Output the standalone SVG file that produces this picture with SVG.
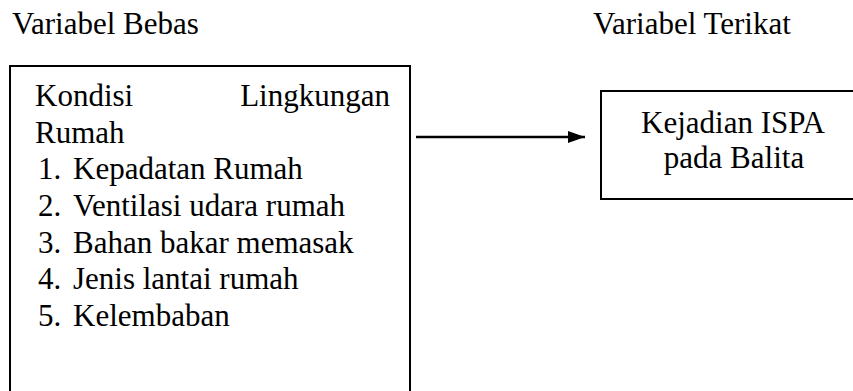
<svg xmlns="http://www.w3.org/2000/svg" width="853" height="391" viewBox="0 0 853 391">
<style>
text{font-family:'Liberation Serif';font-size:31px;fill:#000}
.box{fill:#fff;stroke:#000;stroke-width:2}
.conn{stroke:#000;stroke-width:2.5;fill:none}
</style>
<defs>
<marker id="ah" markerWidth="17" markerHeight="12" refX="17" refY="6" orient="auto" markerUnits="userSpaceOnUse">
<path d="M0,0 L17,6 L0,12 Z" fill="#000"/>
</marker>
</defs>
<rect width="853" height="391" fill="#fff"/>
<text x="12" y="34" font-family="Liberation Serif">Variabel Bebas</text>
<text x="593" y="34" font-family="Liberation Serif">Variabel Terikat</text>
<g id="bebas">
<rect class="box" x="10" y="66" width="400" height="340"/>
<text x="35" y="106" font-family="Liberation Serif">Kondisi</text>
<text x="390" y="106" text-anchor="end" font-family="Liberation Serif">Lingkungan</text>
<text x="35" y="142.7" font-family="Liberation Serif">Rumah</text>
<text x="38" y="179.4" font-family="Liberation Serif">1.</text>
<text x="73" y="179.4" font-family="Liberation Serif">Kepadatan Rumah</text>
<text x="38" y="216" font-family="Liberation Serif">2.</text>
<text x="73" y="216" font-family="Liberation Serif">Ventilasi udara rumah</text>
<text x="38" y="252.7" font-family="Liberation Serif">3.</text>
<text x="73" y="252.7" font-family="Liberation Serif">Bahan bakar memasak</text>
<text x="38" y="289.4" font-family="Liberation Serif">4.</text>
<text x="73" y="289.4" font-family="Liberation Serif">Jenis lantai rumah</text>
<text x="38" y="326" font-family="Liberation Serif">5.</text>
<text x="73" y="326" font-family="Liberation Serif">Kelembaban</text>
</g>
<g id="terikat">
<rect class="box" x="601" y="91" width="266" height="108"/>
<text x="733" y="133" text-anchor="middle" font-family="Liberation Serif">Kejadian ISPA</text>
<text x="734" y="168" text-anchor="middle" font-family="Liberation Serif">pada Balita</text>
</g>
<g id="connectors">
<line class="conn" x1="416" y1="137" x2="585" y2="137" marker-end="url(#ah)"/>
</g>
</svg>
